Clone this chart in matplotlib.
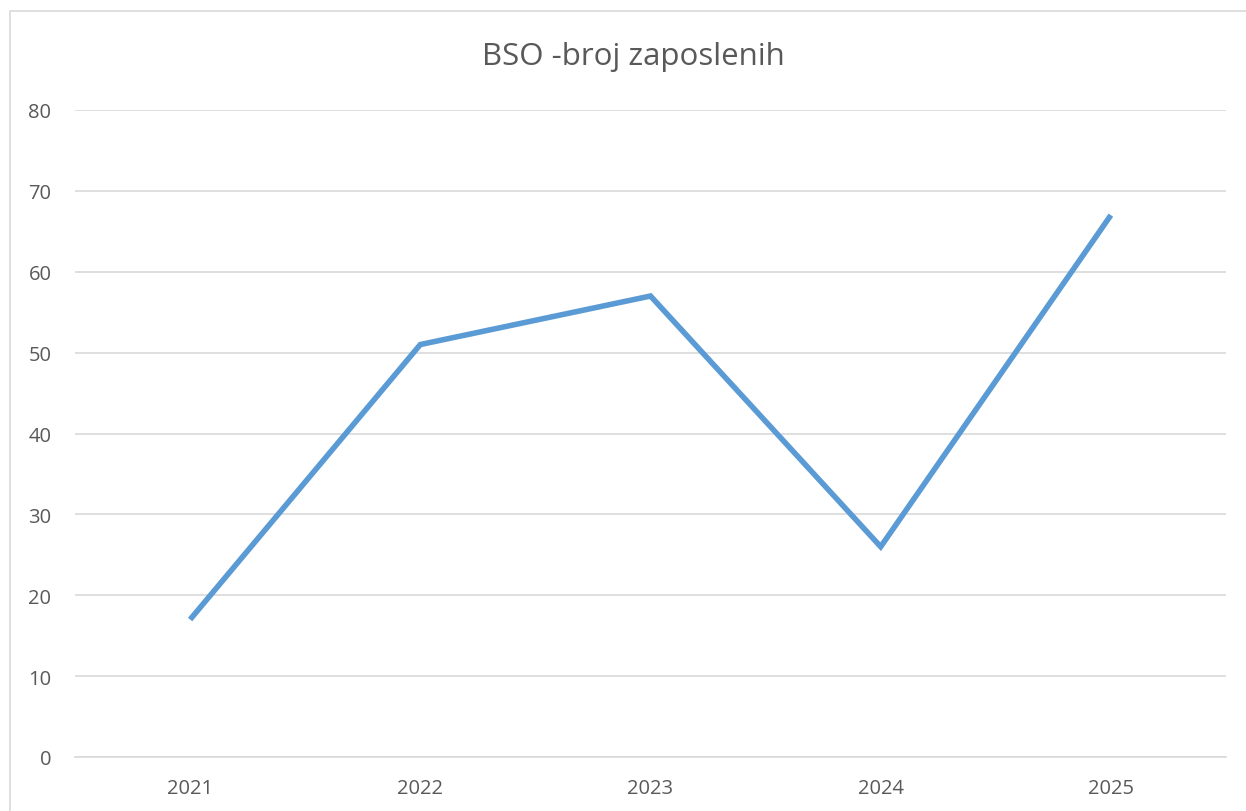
import matplotlib
matplotlib.use("Agg")
import matplotlib.pyplot as plt
from matplotlib.patches import Rectangle

years = ["2021", "2022", "2023", "2024", "2025"]
employees = [17, 51, 57, 26, 67]
y_ticks = [0, 10, 20, 30, 40, 50, 60, 70, 80]

plt.rcParams["font.family"] = ["Open Sans", "DejaVu Sans"]

W, H = 1246, 812
fig = plt.figure(figsize=(W / 100, H / 100), dpi=100)

# chart border (Excel-style frame, cut off at right and bottom)
fig.patches.append(Rectangle((10 / W, -0.01), 1.0, 1 - 12 / H + 0.01,
                             transform=fig.transFigure, fill=False,
                             edgecolor="#d9d9d9", linewidth=1.2))

ax = fig.add_axes([75 / W, 1 - 758 / H, (1226 - 75) / W, (758 - 111) / H])
x = list(range(len(years)))
ax.plot(x, employees, color="#5b9bd5", linewidth=4.0, solid_joinstyle="miter",
        solid_capstyle="butt", zorder=3)

ax.set_xlim(-0.5, len(years) - 0.5)
ax.set_ylim(0, 80)
ax.set_yticks(y_ticks)
ax.set_xticks(x)
ax.set_xticklabels(years)
ax.grid(axis="y", color="#d9d9d9", linewidth=1.2)
for s in ["left", "right", "top"]:
    ax.spines[s].set_visible(False)
ax.spines["bottom"].set_color("#d9d9d9")
ax.spines["bottom"].set_linewidth(1.2)
ax.tick_params(length=0, colors="#595959", labelsize=14.5)
ax.tick_params(axis="y", pad=17)
ax.tick_params(axis="x", pad=15)

fig.text(633 / W, 1 - 57 / H, "BSO -broj zaposlenih", ha="center", va="center",
         fontsize=22.5, color="#595959")

fig.savefig("out.png", dpi=100)
